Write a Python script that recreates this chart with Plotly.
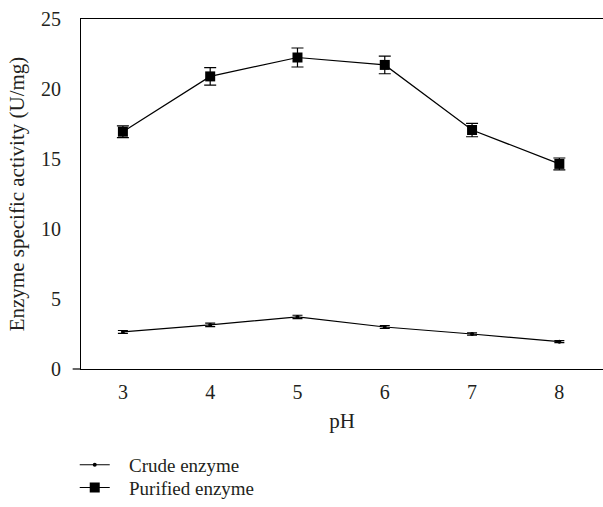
import plotly.graph_objects as go

ph = [3, 4, 5, 6, 7, 8]
crude = [2.65, 3.15, 3.72, 3.0, 2.5, 1.95]
crude_err = [0.1, 0.12, 0.12, 0.1, 0.08, 0.07]
purified = [16.95, 20.9, 22.25, 21.72, 17.07, 14.65]
purified_err = [0.42, 0.62, 0.68, 0.63, 0.48, 0.42]

FONT = "Liberation Serif"
FS = 20
NB = "\u00a0"

fig = go.Figure()
fig.add_trace(go.Scatter(
    x=ph, y=crude, name=NB * 3 + "Crude enzyme", mode="lines+markers",
    line=dict(color="black", width=1.2),
    marker=dict(symbol="circle", size=4, color="black"),
    error_y=dict(type="data", array=crude_err, color="black", thickness=1.2, width=5),
    legend="legend",
))
fig.add_trace(go.Scatter(
    x=ph, y=purified, name=NB * 3 + "Purified enzyme", mode="lines+markers",
    line=dict(color="black", width=1.2),
    marker=dict(symbol="square", size=10, color="black"),
    error_y=dict(type="data", array=purified_err, color="black", thickness=1.2, width=6),
    legend="legend2",
))

leg_common = dict(xanchor="left", yanchor="middle", bgcolor="rgba(0,0,0,0)",
                  font=dict(size=19, family=FONT, color="#231f20"), itemwidth=30)

fig.update_layout(
    width=603, height=507,
    margin=dict(l=81, r=0, t=19, b=134),
    paper_bgcolor="white", plot_bgcolor="white",
    font=dict(family=FONT, size=FS, color="#231f20"),
    showlegend=True,
    legend=dict(x=-0.012, y=-(470 - 373) / 354, **leg_common),
    legend2=dict(x=-0.012, y=-(493 - 373) / 354, **leg_common),
    xaxis=dict(range=[2.52, 8.5], tickvals=ph, showgrid=False, zeroline=False,
               showline=True, linecolor="black", linewidth=1.2, mirror=True,
               ticks="", ticklabelstandoff=5, tickfont=dict(size=FS),
               title=dict(text="pH", standoff=11, font=dict(size=21))),
    yaxis=dict(range=[0, 25], tickvals=[0, 5, 10, 15, 20, 25], showgrid=False,
               zeroline=False, showline=True, linecolor="black", linewidth=1.2,
               ticks="", ticklabelstandoff=15, tickfont=dict(size=FS),
               title=dict(text="Enzyme specific activity (U/mg)", standoff=10,
                          font=dict(size=21))),
)
fig.add_shape(type="line", xref="paper", yref="paper", x0=-0.016, x1=0, y0=0, y1=0,
              line=dict(color="black", width=1.2))

fig.write_html("out.html")
